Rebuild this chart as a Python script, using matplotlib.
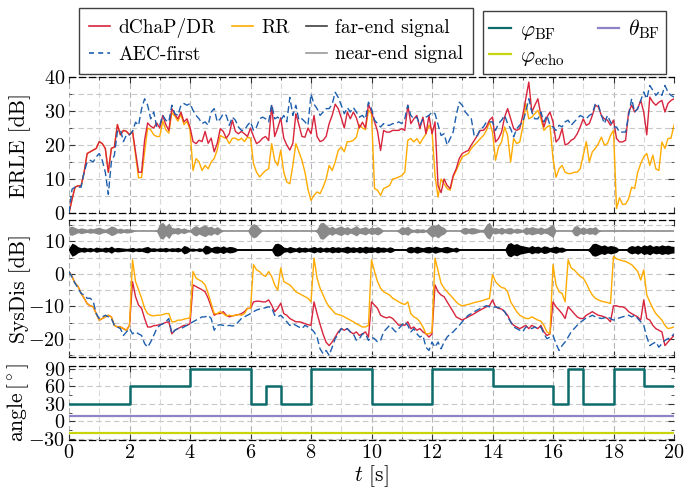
import numpy as np
import matplotlib
matplotlib.use("Agg")
import matplotlib.pyplot as plt
from matplotlib.lines import Line2D
from matplotlib.ticker import MultipleLocator

plt.rcParams.update({
    "font.family": "serif",
    "font.serif": ["cmr10"],
    "mathtext.fontset": "cm",
    "axes.formatter.use_mathtext": True,
    "axes.unicode_minus": True,
})

# ---------------- data ----------------
t = np.round(np.arange(201) * 0.1, 1)  # time axis [s], 0.1 s steps

erle_dr = [
    0, 4, 7.6, 8, 8, 12, 17.5, 18, 18.5, 19,
    21, 20.4, 19, 12, 19, 19.4, 26, 23, 24.3, 24,
    23, 24, 18, 12, 12, 21.5, 26.5, 25.5, 25, 26.5,
    25, 28.7, 26, 24.3, 30.7, 29, 27.7, 29.7, 26.8, 27.7,
    25.3, 21, 20.4, 21.4, 21, 24, 20.5, 22, 18, 20.5,
    24.8, 24, 22, 23.3, 27.3, 24, 23.3, 24, 23.3, 22.5,
    25, 22.5, 20.4, 21, 22, 22.5, 21.3, 31.6, 22.5, 25,
    28, 22, 20, 18.5, 20.5, 29.2, 26, 22.5, 22.3, 25,
    23.3, 28.7, 22.5, 21, 21.4, 22.5, 26.3, 28.7, 32, 30.7,
    28, 25, 29.7, 27.7, 29.7, 28, 25, 26.7, 25, 32,
    29.7, 26.8, 24, 18.4, 24.3, 23.8, 23.8, 24.3, 24.3, 24.3,
    24.8, 24.3, 31.7, 26.3, 27.7, 28.7, 24.8, 28.2, 23.3, 28.7,
    23.3, 26.8, 8, 6, 10, 8.1, 7.2, 11, 13, 16,
    17.5, 18, 18.4, 20, 21.4, 22.8, 24.3, 24.3, 25.3, 27.3,
    28.2, 20.9, 21.9, 23.8, 28.2, 30.7, 27.7, 24.8, 24.3, 24.8,
    28.7, 33.6, 38.5, 29.7, 31.7, 33.6, 28.7, 25.3, 28.2, 29.7,
    26.8, 20.9, 21.9, 24.8, 20, 20.4, 21.4, 21.9, 23.3, 25.3,
    27.7, 25.8, 26.3, 28.7, 31.7, 31.2, 28.7, 27.7, 27.3, 25.8,
    27.3, 21.9, 20.9, 20.9, 21.4, 29.7, 31.7, 29.7, 30.7, 33.1,
    29.7, 23, 34.1, 32.6, 31.7, 32.6, 33.1, 29.7, 32.2, 33.1,
    33.6,
]

erle_rr = [
    0, 4, 7.6, 8, 8, 12, 17.5, 18, 18.5, 19,
    21, 20.4, 19, 12, 19, 19.4, 26, 23, 24.3, 24,
    23, 24, 17, 10.3, 10.5, 18, 25, 24.5, 23, 22.5,
    22.5, 27, 24.5, 23.5, 29.5, 28.5, 27, 29, 26, 27,
    24.5, 12.5, 16, 15, 12.5, 14, 13, 15, 16, 18.6,
    22.8, 22.3, 22, 20.4, 22, 22, 21.4, 22, 21, 22.3,
    22, 14.5, 12, 10.6, 11.6, 12.5, 13, 20.4, 15.5, 14,
    18.5, 12, 9.1, 8.6, 14, 20.4, 18, 15.5, 12, 7,
    3.7, 5.2, 6.2, 5.7, 7.6, 10, 14, 12.5, 15, 18.4,
    19.4, 18, 21, 21, 21.4, 22.3, 26, 25, 24.5, 30.2,
    29.2, 7.2, 6.7, 5.2, 7.2, 7.6, 8.1, 10, 10.2, 10.6,
    11, 12, 21.4, 21.9, 20.9, 21.9, 20.4, 21.9, 23.3, 25.8,
    24.3, 11, 4.7, 10, 8.6, 7.2, 6.7, 10.6, 12.5, 14.5,
    16.5, 17, 17.5, 19, 20, 20.9, 21.9, 22.8, 24.3, 26.8,
    23.8, 15.5, 19.4, 20.9, 25.3, 22.8, 15, 21.9, 20.4, 20.9,
    25.3, 32.2, 27.7, 28.2, 29.2, 30.2, 27.7, 24.3, 25.3, 25.8,
    16, 10.5, 13, 14, 12, 11.6, 11.6, 12, 12, 13,
    17, 21, 15, 18, 19, 20.4, 22.3, 20, 20.4, 22.8,
    24.3, 1.3, 4.5, 2.5, 2.6, 4.2, 7.6, 7.2, 12, 14.5,
    16.5, 17.5, 14, 17, 13, 12.5, 20.9, 19, 21.9, 22,
    25.8,
]

erle_aec = [
    0, 7, 7.6, 7.6, 7.6, 12, 15, 15.5, 15, 16.5,
    17.5, 15.5, 12, 5.5, 15, 17, 24, 24.5, 21, 23,
    23, 24, 26.7, 25.8, 30.7, 33.6, 31.7, 27.7, 29.7, 25.3,
    25.8, 28.7, 27.3, 26.8, 31.7, 29.2, 28.7, 31.7, 32.2, 31.7,
    32.2, 30.2, 28.7, 27.7, 26.3, 26.8, 25.8, 29.7, 30.7, 26.8,
    27.7, 29.2, 28.7, 25.8, 28.2, 27.3, 25.3, 24.3, 24.3, 25.8,
    26.8, 24.3, 25.3, 27.7, 28.2, 27.7, 26.8, 32, 27.7, 28.2,
    27.3, 28.7, 26.8, 34, 28.7, 31.7, 27.3, 27.7, 26.8, 25.8,
    35, 32, 30.7, 28.7, 29.7, 30.7, 30.7, 32, 35.5, 34,
    31.7, 29.2, 31, 29.7, 31, 29.7, 28.2, 28.7, 27.7, 32.6,
    30.7, 27.3, 26.3, 25.3, 26.3, 25.8, 25.8, 26.3, 26.3, 26.8,
    26.3, 27.7, 31.7, 28.7, 27.7, 28.2, 25.8, 27.7, 28.2, 28.7,
    29.7, 29.2, 26, 22.8, 23.3, 20, 21.9, 23.8, 28.7, 32.6,
    31.7, 29.7, 28.7, 27.7, 22.4, 22.8, 24.8, 25.3, 26.8, 26.8,
    26.8, 24.3, 26.3, 27.3, 28.7, 26.3, 24.8, 22.4, 24.8, 25.8,
    26.8, 29.7, 33.6, 29.7, 27.7, 27.7, 29.7, 26.8, 28.7, 25.8,
    25.3, 24.3, 25.8, 25.3, 26.8, 27.3, 25.8, 26.8, 27.7, 28.7,
    28.2, 27.7, 28.7, 29.2, 32.2, 31.7, 28.7, 26.3, 28.7, 26.8,
    25.3, 25.3, 23.8, 23.8, 23.8, 28.7, 33.6, 29.7, 30.7, 33.1,
    35.6, 33.6, 37.5, 36.1, 34.6, 35.6, 34.6, 37.5, 35.6, 34.6,
    34.1,
]

sysdis_dr = [
    0.7, -0.8, -2.9, -3.9, -6, -7.5, -9.1, -9.8, -10.1, -12.2,
    -14.2, -13.7, -13.2, -12.7, -13.2, -15.8, -16.3, -16.3, -16.8, -17.3,
    -15.8, -2.4, -7, -9.6, -10.6, -13.7, -16.3, -16.3, -15.9, -15.8,
    -15.6, -15.3, -14.9, -14.7, -18.4, -17.3, -16.8, -16.3, -15.8, -15.8,
    -15.3, -3.4, -3.9, -4.4, -4.9, -5.5, -7.5, -10.1, -12.7, -12.2,
    -12.2, -11.6, -12.7, -13.2, -12.9, -12.7, -12.5, -12.2, -11.6, -10.6,
    -10.6, -8.6, -8.4, -8.4, -8.6, -8.6, -8, -9.6, -11.6, -10.6,
    -9, -12.2, -12.7, -13.7, -14.2, -14.7, -14.7, -14.9, -15.3, -15.6,
    -15.8, -8.6, -12.2, -15.5, -18.5, -21, -22, -20.9, -19.4, -17.8,
    -16.8, -17.3, -16.8, -17.8, -18.4, -17.8, -18.9, -18.4, -17.8, -19.4,
    -8.6, -9.6, -10.6, -12.7, -13.2, -13.5, -13.2, -13.7, -14.7, -15.8,
    -15.6, -15.8, -14.7, -16.8, -16.3, -17.3, -16.8, -17.8, -18.4, -19.4,
    -18.4, -3.4, -5.5, -6.5, -7, -8.6, -10.1, -11.6, -13.2, -13.7,
    -14.2, -13.7, -13.2, -12.7, -12.2, -11.6, -11.1, -10.6, -10.1, -9.8,
    -8, -10.1, -10.6, -10.8, -11.6, -12.7, -14.7, -15.8, -16.3, -16.8,
    -16.3, -15.8, -16.8, -15.8, -16.3, -16.8, -15.8, -17.8, -18.9, -18.4,
    -8.6, -10.1, -11.1, -12.2, -13.7, -10.1, -11.1, -12.2, -13.2, -13.7,
    -13.7, -12.7, -12.2, -11.6, -12.2, -12.7, -12.9, -13.2, -13.7, -14.7,
    -9.8, -9.8, -10.1, -10.1, -10.6, -11.6, -12.2, -12.7, -13.2, -14.2,
    -8, -13.7, -14.2, -15.8, -16.8, -17.3, -17.8, -22, -20.9, -19.9,
    -18.9,
]

sysdis_rr = [
    0.7, -0.8, -2.9, -3.9, -6, -7.5, -9.1, -9.8, -10.1, -12.2,
    -14.2, -13.7, -13.2, -12.7, -13.2, -15.8, -16.3, -16.3, -16.8, -17.3,
    -15.8, 4.3, -2.4, -4.9, -7.5, -10.6, -12.2, -12.7, -12.9, -12.7,
    -12.7, -12.5, -12.2, -12.2, -14.7, -14.7, -14.2, -14.2, -13.9, -13.7,
    -13.5, 0.7, -1.3, -1.9, -2.4, -3.4, -6, -9.1, -12.2, -12.2,
    -11.6, -12.2, -12.9, -12.7, -12.9, -12.7, -12.5, -12.7, -12.2, -10.6,
    -10.6, 2.8, 1.2, 0.7, -0.3, -0.8, 0.7, -0.8, -3.4, -5,
    1.8, -2.4, -2.9, -3.4, -4.4, -5.5, -6, -6.5, -7, -7.5,
    -8.6, 4.8, -1.3, -4.4, -6.5, -8.6, -10.1, -11.1, -12.2, -12.5,
    -12.7, -13.2, -13.7, -14.2, -14.7, -15.3, -15.8, -16.3, -16.3, -15.8,
    4.3, 0.7, -2.4, -4.4, -5.5, -6, -6.5, -7.5, -8, -8.6,
    -9.1, -9.4, -8.6, -12.2, -13.2, -13.7, -14.7, -16.3, -18.4, -18.4,
    -17.8, 4.8, 1.0, -2.9, -4.4, -5.5, -6.5, -7.5, -8.6, -9.4,
    -9.8, -9.6, -9.4, -9.1, -8.8, -8.6, -8.4, -8.1, -7.8, -7.5,
    -0.3, -2.4, -3.4, -4.2, -4.4, -5.5, -8.6, -10.1, -11.6, -12.7,
    -13.2, -13.7, -13.7, -13.2, -13.7, -14.2, -14.5, -15.8, -17.8, -18.4,
    2.8, -3.4, -5.5, -6, -8.6, 4.3, 1.8, 1.2, 0.2, -0.8,
    -1.3, -2.9, -4.9, -6.5, -7.5, -8, -8.4, -8.6, -8.8, -9.1,
    5.4, 4.6, 4.3, 4.0, 3.8, 3.3, 2.8, 1.8, 0.7, -1.9,
    1.2, -6.5, -8.6, -10.6, -12.2, -13.2, -14.2, -15.8, -16.8, -16.6,
    -16.3,
]

sysdis_aec = [
    0.7, -1, -2.9, -4.4, -6, -6.5, -7.5, -7.5, -8.4, -12.2,
    -13.7, -13.2, -12.7, -13.2, -13.7, -15.8, -16.3, -16.8, -18.9, -17.8,
    -16.8, -18.4, -17.8, -18.4, -18.9, -21.4, -22.5, -20.9, -18.9, -16.8,
    -15.8, -15.3, -14.7, -13.7, -18.4, -17.3, -16.8, -16.8, -16.3, -15.8,
    -15.3, -14.7, -14.2, -13.7, -13.2, -13.2, -12.7, -13.7, -17.3, -15.8,
    -15.6, -15.8, -16, -15.8, -16, -15.8, -14.7, -13.7, -13.2, -12.7,
    -12.2, -11.6, -11.1, -10.8, -10.6, -10.4, -10.1, -10.4, -12.7, -13.2,
    -12.7, -13.7, -14.7, -15.8, -15.3, -15.8, -16.3, -16.8, -15.8, -16.3,
    -16.8, -17.8, -19.4, -23, -24.5, -23.5, -25, -22.5, -19.9, -18.4,
    -16.8, -17.3, -16.8, -17.8, -18.4, -20.4, -19.9, -18.4, -18.4, -20.4,
    -19.4, -19.9, -20.9, -20.4, -17.8, -16.8, -15.8, -16.8, -17.8, -16.8,
    -15.8, -14.7, -15.8, -17.8, -16.8, -18.4, -19.4, -18.9, -22.5, -23.5,
    -20.9, -22.5, -20.9, -23, -20.9, -19.4, -18.4, -17.8, -16.8, -15.8,
    -14.7, -13.7, -12.7, -12.2, -11.6, -11.1, -10.6, -10.1, -9.8, -10.1,
    -10.4, -10.1, -10.4, -10.6, -11.6, -13.2, -14.7, -16.3, -16.8, -17.3,
    -17.8, -16.3, -16.3, -16.8, -16.3, -16.8, -16.3, -18.4, -19.9, -19.4,
    -18.9, -21.4, -23.5, -22, -20.9, -19.4, -17.8, -16.8, -15.8, -14.9,
    -14.2, -13.5, -13.2, -12.7, -13.2, -13.5, -13.7, -13.5, -13.2, -13.7,
    -14.2, -13.7, -13.5, -13.2, -12.9, -12.7, -13.2, -12.7, -13.7, -14.7,
    -15.8, -19.4, -22, -21.4, -20.9, -22.5, -21.4, -20.4, -19.9, -19.4,
    -18.4,
]

# speech signals drawn as amplitude envelopes (dB-axis units) around an offset
near_env = [
    1.2, 1.4, 1.0, 0.6, 0.9, 0.7, 0.5, 0.8, 0.6, 0.9,
    1.1, 0.7, 0.5, 0.9, 1.5, 1.2, 0.6, 0.8, 0.5, 0.7,
    0.6, 0.4, 0, 0, 0, 0, 0, 0, 0, 0.3,
    2.2, 2.6, 1.5, 2.4, 1.0, 0.8, 1.1, 0.6, 0.9, 0.5,
    0.3, 1.2, 1.6, 1.0, 1.5, 1.8, 1.2, 1.4, 0.8, 1.3,
    0.6, 0, 0, 0, 0, 0, 0, 0, 0, 0,
    1.5, 2.2, 1.8, 0.8, 0, 0, 0, 0, 0, 0,
    0, 0, 0, 0, 0, 0, 0, 0, 0, 0,
    0, 0, 0.6, 2.4, 2.6, 1.8, 1.0, 1.4, 0.8, 1.2,
    1.5, 0.9, 1.3, 0.7, 1.1, 1.6, 0.8, 1.0, 1.3, 0.7,
    1.2, 0.9, 1.3, 0.8, 0, 0, 0, 0, 0, 0.5,
    1.3, 1.0, 1.4, 0.6, 0.4, 0.7, 0.5, 0.6, 0.3, 1.2,
    2.0, 1.6, 2.2, 1.4, 1.0, 0, 0, 0, 0, 0,
    0.8, 1.1, 0.7, 1.0, 0.9, 0.6, 0.4, 0.5, 2.0, 2.6,
    0.8, 1.0, 0.7, 1.1, 0.6, 0.9, 1.0, 0.5, 0.8, 0.6,
    0.4, 1.2, 0.9, 1.3, 1.0, 0.8, 1.2, 0.7, 0.9, 1.5,
    2.1, 0, 0, 0, 0, 0, 0, 1.4, 1.6, 0.8,
    1.2, 0.7, 1.1, 0.9, 1.3, 0.4, 0, 0, 0, 0,
    0, 0, 0, 0, 0, 0, 0, 0, 0, 0,
    0, 0, 0, 0, 0, 0, 0, 0, 0, 0,
    0,
]

far_env = [
    0.6, 2.0, 1.6, 0.9, 0.6, 0.8, 0.5, 0.7, 0.4, 0.8,
    0.6, 0.5, 0.8, 0.6, 1.1, 0.5, 0.7, 0.6, 0.5, 0.4,
    0.5, 0.7, 0.4, 0.6, 0.5, 0.8, 1.0, 0.5, 0.6, 0.4,
    0.6, 0.5, 0.7, 0.4, 0.6, 0.5, 0.7, 0.4, 1.3, 1.0,
    0.4, 0.5, 0.3, 0.6, 0.4, 1.4, 1.2, 0.6, 1.0, 1.1,
    0.8, 1.2, 0.7, 1.0, 0.9, 0.6, 0, 0, 0, 0,
    0, 0, 0, 0, 0, 0, 0, 0.3, 1.8, 2.0,
    1.6, 0.8, 0.6, 1.0, 0.7, 0.5, 0.9, 0.6, 0.8, 0.5,
    0.7, 1.0, 0.6, 0.9, 0.5, 0.8, 0.6, 1.0, 0.7, 0.9,
    0.6, 0.8, 1.1, 0.7, 0.9, 0.6, 1.0, 0.7, 1.1, 0.8,
    0.9, 0.6, 1.0, 0.7, 0.8, 0.5, 0.9, 0.6, 0, 0,
    0, 0, 0.8, 1.0, 0.7, 1.1, 0.8, 0.6, 0.9, 1.0,
    0.7, 1.1, 0.8, 0.6, 0.9, 1.0, 0.7, 0.5, 0.8, 0.3,
    0, 0, 0, 0, 0, 0, 0, 0, 0, 0,
    0, 0, 0, 0, 0, 1.8, 2.2, 1.6, 1.9, 1.4,
    1.2, 1.0, 0.8, 1.3, 0.9, 1.1, 0.7, 1.2, 1.0, 0.6,
    0.9, 1.1, 0.7, 0.8, 0.4, 0, 0, 0, 0, 0,
    0, 0, 0.6, 1.8, 2.0, 1.6, 1.2, 1.5, 1.0, 1.3,
    1.1, 0.8, 0, 0, 0, 0.9, 1.3, 1.0, 1.4, 0.9,
    1.5, 1.2, 1.6, 1.0, 1.3, 1.1, 1.5, 1.2, 1.4, 1.1,
    1.0,
]
near_offset = 13.2
far_offset = 7.4

# angles
phi_bf_t = [0, 2, 4, 6, 6.5, 7, 8, 10, 12, 14, 16, 16.5, 17, 18, 19, 20]
phi_bf = [30, 60, 90, 30, 60, 30, 90, 30, 90, 60, 30, 90, 30, 90, 60, 60]
theta_bf_t = [0, 20]
theta_bf = [10, 10]
phi_echo_t = [0, 20]
phi_echo = [-20, -20]

# ---------------- style ----------------
C_DR = "#d8243c"
C_RR = "#ffab00"
C_AEC = "#1d5fae"
C_FAR = "#000000"
C_NEAR = "#8a8a8a"
C_PHI = "#0e6b6b"
C_THETA = "#8c84c6"
C_ECHO = "#c8d40c"
AEC_DASH = (0, (5, 2.5))
GRID_DASH = (0, (5, 3))
FS_TICK = 14.5
FS_LAB = 15.5

fig = plt.figure(figsize=(6.84, 4.91), dpi=100)
left, width = 69 / 684, 605 / 684
ax1 = fig.add_axes([left, 1 - 213 / 491, width, 136 / 491])
ax2 = fig.add_axes([left, 1 - 357 / 491, width, 137 / 491])
ax3 = fig.add_axes([left, 1 - 440 / 491, width, 74 / 491])


def style(ax, ylim, ymaj, ymin, minor_ygrid=True):
    ax.set_xlim(0, 20)
    ax.set_ylim(*ylim)
    ax.xaxis.set_major_locator(MultipleLocator(2))
    ax.xaxis.set_minor_locator(MultipleLocator(1))
    ax.yaxis.set_major_locator(MultipleLocator(ymaj))
    ax.yaxis.set_minor_locator(MultipleLocator(ymin))
    ax.grid(True, which="major", axis="x", color="#b4b4b4", ls=GRID_DASH, lw=0.8)
    ax.grid(True, which="minor", axis="x", color="#d8d8d8", ls=GRID_DASH, lw=0.8)
    ax.grid(True, which="major", axis="y", color="#c8c8c8", ls=GRID_DASH, lw=0.8)
    if minor_ygrid:
        ax.grid(True, which="minor", axis="y", color="#c8c8c8", ls=GRID_DASH, lw=0.8)
    ax.set_axisbelow(True)
    ax.tick_params(which="both", direction="in", top=True, right=True,
                   color="#333333", labelsize=FS_TICK)
    ax.tick_params(which="major", length=4.5, width=0.8, pad=3)
    ax.tick_params(which="minor", length=2.5, width=0.6)
    for s in ("left", "right"):
        ax.spines[s].set_visible(False)
    for s in ("top", "bottom"):
        ax.spines[s].set_linestyle(GRID_DASH)
        ax.spines[s].set_linewidth(0.9)
    ax.yaxis.set_label_coords(-0.062, 0.5)


style(ax1, (0, 40), 10, 5)
style(ax2, (-25.5, 16.5), 10, 5)
style(ax3, (-32, 95), 30, 15, minor_ygrid=False)
ax1.tick_params(labelbottom=False)
ax2.tick_params(labelbottom=False)

# ERLE
ax1.plot(t, erle_rr, color=C_RR, lw=1.0)
ax1.plot(t, erle_dr, color=C_DR, lw=1.0)
ax1.plot(t, erle_aec, color=C_AEC, lw=1.0, ls=AEC_DASH)
ax1.set_ylabel("ERLE [dB]", fontsize=FS_LAB)

# SysDis + signals
near_env = np.asarray(near_env)
far_env = np.asarray(far_env)
ax2.fill_between(t, near_offset - near_env, near_offset + near_env, color=C_NEAR, lw=0)
ax2.plot(t, np.full_like(t, near_offset), color=C_NEAR, lw=1.2)
ax2.fill_between(t, far_offset - far_env, far_offset + far_env, color=C_FAR, lw=0)
ax2.plot(t, np.full_like(t, far_offset), color=C_FAR, lw=1.4)
ax2.plot(t, sysdis_dr, color=C_DR, lw=1.0)
ax2.plot(t, sysdis_rr, color=C_RR, lw=1.0)
ax2.plot(t, sysdis_aec, color=C_AEC, lw=1.0, ls=AEC_DASH)
ax2.set_ylabel("SysDis [dB]", fontsize=FS_LAB)

# angles
ax3.step(phi_bf_t, phi_bf, where="post", color=C_PHI, lw=1.8)
ax3.plot(theta_bf_t, theta_bf, color=C_THETA, lw=1.6)
ax3.plot(phi_echo_t, phi_echo, color=C_ECHO, lw=1.6)
ax3.set_ylabel(r"angle$\,[^\circ]$", fontsize=FS_LAB)
ax3.set_xlabel(r"$t$ [s]", fontsize=FS_LAB, labelpad=1)

# legends
h1 = [
    Line2D([], [], color=C_DR, lw=1.2),
    Line2D([], [], color=C_AEC, lw=1.2, ls=(0, (3, 2.5))),
    Line2D([], [], color=C_RR, lw=1.2),
    Line2D([], [], color="none"),
    Line2D([], [], color="#404040", lw=1.2),
    Line2D([], [], color="#9a9a9a", lw=1.2),
]
l1 = ["dChaP/DR", "AEC-first", "RR", " ", "far-end signal", "near-end signal"]
fig.legend(h1, l1, ncol=3, loc="lower left", bbox_to_anchor=(79 / 684, 1 - 74 / 491),
           frameon=True, fancybox=False, edgecolor="#404040", framealpha=1,
           fontsize=14, handlelength=1.1, handletextpad=0.4, columnspacing=0.85,
           borderpad=0.5, labelspacing=0.45, borderaxespad=0)

h2 = [
    Line2D([], [], color=C_PHI, lw=1.6),
    Line2D([], [], color=C_ECHO, lw=1.6),
    Line2D([], [], color=C_THETA, lw=1.6),
]
l2 = [r"$\varphi_{\mathrm{BF}}$", r"$\varphi_{\mathrm{echo}}$", r"$\theta_{\mathrm{BF}}$"]
fig.legend(h2, l2, ncol=2, loc="lower left", bbox_to_anchor=(483 / 684, 1 - 74 / 491),
           frameon=True, fancybox=False, edgecolor="#404040", framealpha=1,
           fontsize=15.5, handlelength=1.0, handletextpad=0.4, columnspacing=1.55,
           borderpad=0.3, labelspacing=0.2, borderaxespad=0)

fig.savefig("out.png", dpi=100)
